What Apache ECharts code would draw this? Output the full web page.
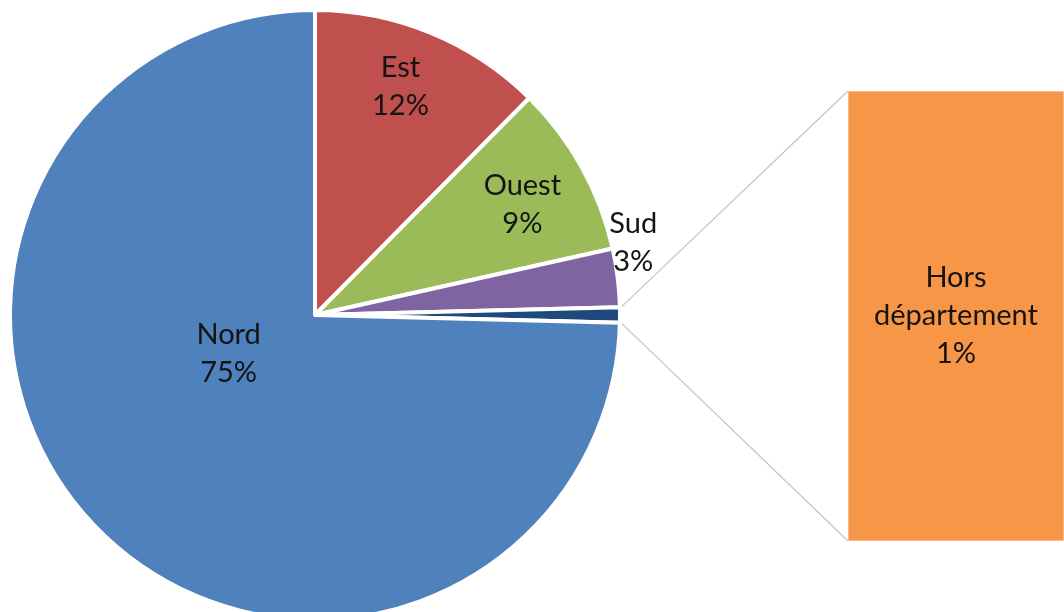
<!DOCTYPE html>
<html>
<head>
<meta charset="utf-8">
<script src="https://cdn.jsdelivr.net/npm/echarts@6/dist/echarts.min.js"></script>
<style>
  html, body { margin: 0; padding: 0; background: #fff; }
  #chart { width: 1064px; height: 612px; }
</style>
</head>
<body>
<div id="chart"></div>
<script>
// Données du camembert (ordre horaire depuis midi)
var secteurs = ['Est', 'Ouest', 'Sud', 'Hors département', 'Nord'];
var parts = [12.4, 9.1, 3.1, 0.8, 74.6];
var couleurs = ['#C0504D', '#9BBB59', '#8064A2', '#1F497D', '#4F81BD'];

// Partie détaillée dans la barre
var barreNoms = ['Hors département'];
var barreValeurs = [0.8];

// Mise en page
var centre = [315, 315];
var rayon = 305;
var barre = { left: 848, top: 91, width: 238, height: 450 };
var police = 'Lato, "Open Sans", sans-serif';

// position des étiquettes : [angle en degrés, fraction du rayon]
var posEtiquettes = {
    'Nord': [204, 0.31],
    'Est': [69.5, 0.80],
    'Ouest': [28, 0.77],
    'Sud': [12.8, 1.07]
};

var total = parts.reduce(function (a, b) { return a + b; }, 0);

// angles du secteur "Hors département" pour les traits de liaison
var avant = 0;
var idxHors = secteurs.indexOf(barreNoms[0]);
for (var i = 0; i < idxHors; i++) avant += parts[i];
var aDebut = 90 - 360 * avant / total;
var aFin = aDebut - 360 * parts[idxHors] / total;

function pointCercle(angle, r) {
    var rad = angle * Math.PI / 180;
    return [centre[0] + r * Math.cos(rad), centre[1] - r * Math.sin(rad)];
}

var p1 = pointCercle(aDebut, rayon + 1);
var p2 = pointCercle(aFin, rayon + 1);

var chart = echarts.init(document.getElementById('chart'));

var option = {
    backgroundColor: '#fff',
    animation: false,
    grid: {
        left: barre.left,
        top: barre.top,
        width: barre.width,
        height: barre.height
    },
    xAxis: {
        type: 'category',
        data: ['autres'],
        show: false
    },
    yAxis: {
        type: 'value',
        min: 0,
        max: barreValeurs.reduce(function (a, b) { return a + b; }, 0),
        show: false
    },
    graphic: [
        {
            type: 'line',
            shape: { x1: p1[0], y1: p1[1], x2: barre.left, y2: barre.top },
            style: { stroke: '#c4c4c4', lineWidth: 1.2 },
            silent: true
        },
        {
            type: 'line',
            shape: { x1: p2[0], y1: p2[1], x2: barre.left, y2: barre.top + barre.height },
            style: { stroke: '#c4c4c4', lineWidth: 1.2 },
            silent: true
        }
    ],
    series: [
        {
            type: 'pie',
            center: centre,
            radius: rayon,
            startAngle: 90,
            clockwise: true,
            data: secteurs.map(function (nom, i) {
                return {
                    name: nom,
                    value: parts[i],
                    itemStyle: { color: couleurs[i] },
                    label: { show: barreNoms.indexOf(nom) < 0 }
                };
            }),
            itemStyle: { borderColor: '#fff', borderWidth: 4 },
            label: {
                position: 'inside',
                fontFamily: police,
                fontSize: 29,
                lineHeight: 38,
                color: '#141414',
                formatter: function (p) {
                    return p.name + '\n' + Math.round(p.value / total * 100) + '%';
                }
            },
            labelLine: { show: false },
            labelLayout: function (params) {
                var nom = secteurs[params.dataIndex];
                var pos = posEtiquettes[nom];
                if (!pos) return {};
                var pt = pointCercle(pos[0], rayon * pos[1]);
                return { x: pt[0], y: pt[1], align: 'center', verticalAlign: 'middle' };
            },
            emphasis: { disabled: true }
        },
        {
            type: 'bar',
            stack: 'autres',
            barWidth: '100%',
            data: barreValeurs.map(function (v, i) {
                return { name: barreNoms[i], value: v };
            }),
            itemStyle: { color: '#F79646', borderColor: '#F9B98A', borderWidth: 1 },
            label: {
                show: true,
                position: 'inside',
                fontFamily: police,
                fontSize: 29,
                lineHeight: 38,
                color: '#141414',
                formatter: function (p) {
                    return 'Hors\ndépartement\n' + Math.round(p.value / total * 100) + '%';
                }
            },
            emphasis: { disabled: true }
        }
    ]
};

option && chart.setOption(option);
window.addEventListener('resize', chart.resize);
</script>
</body>
</html>
